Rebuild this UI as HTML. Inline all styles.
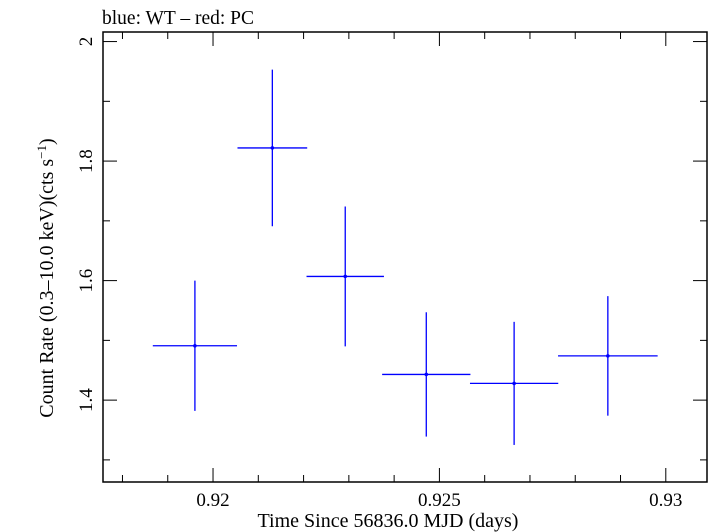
<!DOCTYPE html>
<html><head><meta charset="utf-8"><style>
body{margin:0;background:#fff}
svg{display:block;font-family:"Liberation Serif",serif}
</style></head><body>
<svg id="chart" width="709" height="532">
<text x="102" y="24" font-size="19.5">blue: WT – red: PC</text>
<rect x="103" y="32" width="604" height="450" fill="none" stroke="#000" stroke-width="1.5"/>
<g id="ticks"></g>
<g id="marks"></g>
<text x="388" y="527" font-size="20" text-anchor="middle">Time Since 56836.0 MJD (days)</text>
<text transform="translate(53,278) rotate(-90)" font-size="20" text-anchor="middle">Count Rate (0.3–10.0 keV)(cts s<tspan font-size="13" dy="-7">−1</tspan><tspan dy="7">)</tspan></text>
</svg>
<script>
const xValues=[0.91960,0.92131,0.92292,0.92471,0.92665,0.92872];
const xErrors=[0.00093,0.00077,0.000855,0.000975,0.000975,0.0011];
const yValues=[1.491,1.822,1.607,1.443,1.428,1.474];
const yErrors=[0.109,0.131,0.117,0.104,0.103,0.100];
const xMajorTicks=[0.92,0.925,0.93];
const xTickLabels=["0.92","0.925","0.93"];
const yMajorTicks=[1.4,1.6,1.8,2.0];
const yTickLabels=["1.4","1.6","1.8","2"];
const X0=0.91757,X1=0.93091,Y0=1.263,Y1=2.016;
const L=103,R=707,T=32,B=482;
const sx=v=>L+(v-X0)/(X1-X0)*(R-L);
const sy=v=>B-(v-Y0)/(Y1-Y0)*(B-T);
const NS="http://www.w3.org/2000/svg";
function mk(tag,attrs,parent){const e=document.createElementNS(NS,tag);for(const k in attrs)e.setAttribute(k,attrs[k]);parent.appendChild(e);return e;}
const tg=document.getElementById('ticks'),mg=document.getElementById('marks');
for(let i=0;i<=14;i++){const v=0.918+i*0.001;if(v>X1)break;const x=sx(v);const major=Math.abs((v*1000)%5)<1e-6||Math.abs((v*1000)%5-5)<1e-6;const len=major?14:7;
 let t=mk('line',{x1:x,x2:x,y1:B,y2:B-len,stroke:'#000'},tg);
 t=mk('line',{x1:x,x2:x,y1:T,y2:T+len,stroke:'#000'},tg);}
xMajorTicks.forEach((v,i)=>{const t=mk('text',{x:sx(v),y:506,'font-size':19,'text-anchor':'middle'},tg);t.textContent=xTickLabels[i];});
for(let i=0;i<=7;i++){const v=1.3+i*0.1;if(v>Y1)break;const y=sy(v);const major=i%2==1;const len=major?14:7;
 let t=mk('line',{x1:L,x2:L+len,y1:y,y2:y,stroke:'#000'},tg);
 t=mk('line',{x1:R,x2:R-len,y1:y,y2:y,stroke:'#000'},tg);}
yMajorTicks.forEach((v,i)=>{const y=sy(v);const t=mk('text',{transform:`translate(92,${y}) rotate(-90)`,'font-size':19,'text-anchor':'middle'},tg);t.textContent=yTickLabels[i];});
xValues.forEach((v,i)=>{const g=mk('g',{stroke:'#0000ff','stroke-width':1.3},mg);
 mk('line',{x1:sx(v-xErrors[i]),x2:sx(v+xErrors[i]),y1:sy(yValues[i]),y2:sy(yValues[i])},g);
 mk('line',{x1:sx(v),x2:sx(v),y1:sy(yValues[i]-yErrors[i]),y2:sy(yValues[i]+yErrors[i])},g);
 mk('circle',{cx:sx(v),cy:sy(yValues[i]),r:1.8,fill:'#0000ff',stroke:'none'},g);});
</script>
</body></html>
